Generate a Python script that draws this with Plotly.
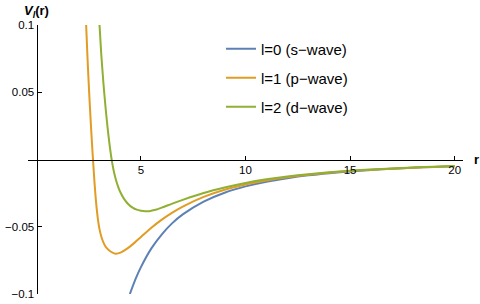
import plotly.graph_objects as go

# ---- data ----
r_s = [4.47, 4.75, 5.0, 5.5, 6.0, 6.5, 7.0, 8.0, 9.0, 10.0, 11.0, 12.0, 13.0, 14.0, 15.0, 16.0, 17.0, 18.0, 19.0, 20.0]
v_s = [-0.100, -0.0886, -0.0800, -0.0661, -0.0556, -0.0473, -0.0408, -0.0313, -0.0247, -0.0200,
       -0.0165, -0.0139, -0.0118, -0.0102, -0.0089, -0.0078, -0.0069, -0.0062, -0.0055, -0.0050]

r_p = [2.38, 2.45, 2.52, 2.60, 2.66, 2.72, 2.78, 2.85, 2.96, 3.05, 3.15, 3.27, 3.39, 3.55, 3.79, 4.05,
       4.34, 4.7, 5.0, 5.5, 6.0, 6.5, 7.0, 8.0, 9.0, 10.0, 11.0, 12.0, 13.0, 14.0, 15.0, 16.0, 17.0,
       18.0, 19.0, 20.0]
v_p = [0.100, 0.074, 0.051, 0.028, 0.0118, -0.003, -0.017, -0.031, -0.0464, -0.054, -0.0595, -0.0637,
       -0.0663, -0.0684, -0.0700, -0.0690, -0.0663, -0.0618, -0.0576, -0.0507, -0.0447, -0.0395,
       -0.0350, -0.0278, -0.0225, -0.0186, -0.0156, -0.0132, -0.0113, -0.0098, -0.0086, -0.0076,
       -0.0068, -0.0061, -0.0055, -0.0049]

r_d = [3.02, 3.1, 3.2, 3.3, 3.4, 3.5, 3.61, 3.7, 3.8, 3.9, 4.0, 4.2, 4.4, 4.6, 4.8, 5.0, 5.2, 5.4,
       5.7, 6.0, 6.5, 7.0, 8.0, 9.0, 10.0, 11.0, 12.0, 13.0, 14.0, 15.0, 16.0, 17.0, 18.0, 19.0, 20.0]
v_d = [0.100, 0.079, 0.058, 0.040, 0.0245, 0.011, -0.001, -0.0085, -0.0148, -0.0198, -0.0238, -0.0295,
       -0.0333, -0.0358, -0.0373, -0.0381, -0.0385, -0.0384, -0.0374, -0.0358, -0.0328, -0.0300,
       -0.0249, -0.0208, -0.0174, -0.0147, -0.0126, -0.0109, -0.0095, -0.0084, -0.0074, -0.0066,
       -0.0059, -0.0053, -0.0048]

names = ["l=0 (s\u2212wave)", "l=1 (p\u2212wave)", "l=2 (d\u2212wave)"]
colors = ["#5E81B5", "#E19C24", "#8FB032"]

x_ticks = [5, 10, 15, 20]
x_ticktext = ["5", "10", "15", "20"]
y_ticks = [-0.1, -0.05, 0.05, 0.1]
y_ticktext = ["\u22120.1", "\u22120.05", "0.05", "0.1"]

FONT = "Liberation Sans"

fig = go.Figure()
series = [(r_s, v_s), (r_p, v_p), (r_d, v_d)]
legend_ids = ["legend", "legend2", "legend3"]
for (rr, vv), nm, col, lg in zip(series, names, colors, legend_ids):
    fig.add_trace(go.Scatter(x=rr, y=vv, mode="lines", name=nm, legend=lg,
                             line=dict(color=col, width=2, shape="spline", smoothing=0.6)))

W, H = 480, 304
ml, mr, mt, mb = 28, 17, 25, 10
pw, ph = W - ml - mr, H - mt - mb

def px_to_paper_x(px):
    return (px - ml) / pw

def px_to_paper_y(py):
    return (H - mb - py) / ph

leg_common = dict(xanchor="left", yanchor="middle", bgcolor="rgba(0,0,0,0)",
                  borderwidth=0, font=dict(family=FONT, size=15, color="black"))
rows = [49, 78, 107]

fig.update_layout(
    width=W, height=H,
    margin=dict(l=ml, r=mr, t=mt, b=mb, autoexpand=False),
    paper_bgcolor="white", plot_bgcolor="white",
    font=dict(family=FONT, size=11, color="black"),
    legend=dict(x=px_to_paper_x(221), y=px_to_paper_y(rows[0]), **leg_common),
    legend2=dict(x=px_to_paper_x(221), y=px_to_paper_y(rows[1]), **leg_common),
    legend3=dict(x=px_to_paper_x(221), y=px_to_paper_y(rows[2]), **leg_common),
    showlegend=True,
    xaxis=dict(range=[-0.4, 20.4], anchor="free", position=0.5, showline=True, automargin=False,
               linecolor="black", linewidth=1, ticks="inside", ticklen=4, tickcolor="black",
               tickvals=x_ticks, ticktext=x_ticktext, showgrid=False, zeroline=False,
               tickfont=dict(family=FONT, size=11.5, color="black")),
    yaxis=dict(range=[-0.1, 0.1], anchor="free", position=px_to_paper_x(36.5), showline=True,
               automargin=False,
               linecolor="black", linewidth=1, ticks="inside", ticklen=4, tickcolor="black",
               tickvals=y_ticks, ticktext=y_ticktext, showgrid=False, zeroline=False,
               tickfont=dict(family=FONT, size=11.5, color="black")),
)

fig.add_annotation(x=0, xref="x", y=1, yref="paper", xanchor="center", yanchor="bottom",
                   text="<b><i>V</i><sub><i>l</i></sub>(r)</b>", showarrow=False, yshift=3,
                   font=dict(family=FONT, size=13, color="black"))
fig.add_annotation(x=1, xref="paper", y=0, yref="y", xanchor="left", yanchor="middle",
                   text="<b>r</b>", showarrow=False, xshift=9,
                   font=dict(family=FONT, size=13, color="black"))

fig.write_html("out.html", config={"displayModeBar": False},
               post_script="document.body.style.margin='0';")
